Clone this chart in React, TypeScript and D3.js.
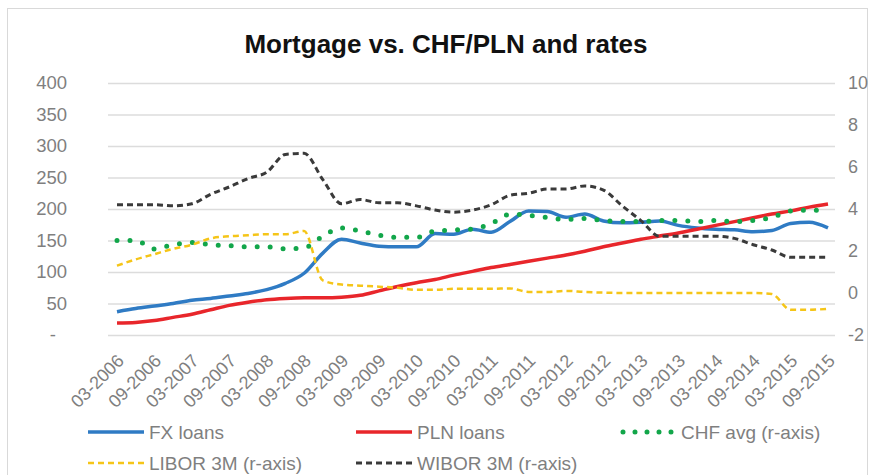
import React, { useEffect, useRef } from "react";
import * as d3 from "d3";

// quarterly categories, labels shown for 03 and 09
const quarters = [
  "03-2006", "06-2006", "09-2006", "12-2006",
  "03-2007", "06-2007", "09-2007", "12-2007",
  "03-2008", "06-2008", "09-2008", "12-2008",
  "03-2009", "06-2009", "09-2009", "12-2009",
  "03-2010", "06-2010", "09-2010", "12-2010",
  "03-2011", "06-2011", "09-2011", "12-2011",
  "03-2012", "06-2012", "09-2012", "12-2012",
  "03-2013", "06-2013", "09-2013", "12-2013",
  "03-2014", "06-2014", "09-2014", "12-2014",
  "03-2015", "06-2015", "09-2015",
];

// left axis
const fxLoans = [
  37, 42, 46, 50, 55, 58, 62, 66, 72, 82, 98, 130, 152, 146, 141, 140, 140, 161, 160, 168,
  163, 180, 197, 196, 187, 192, 181, 178, 179, 181, 174, 170, 168, 167, 164, 166, 177, 179, 170,
];
const plnLoans = [
  19, 20, 23, 28, 33, 40, 47, 52, 56, 58, 59, 59, 60, 63, 70, 77, 83, 88, 95, 101,
  107, 112, 117, 122, 127, 133, 140, 146, 152, 157, 162, 168, 174, 180, 186, 192, 197, 203, 208,
];

// right axis
const chfAvg = [
  2.5, 2.5, 2.1, 2.3, 2.4, 2.3, 2.25, 2.2, 2.2, 2.1, 2.15, 2.7, 3.1, 2.95, 2.75, 2.65, 2.65, 2.95, 3.0, 3.05,
  3.3, 3.75, 3.7, 3.6, 3.5, 3.55, 3.45, 3.4, 3.4, 3.45, 3.45, 3.4, 3.45, 3.4, 3.45, 3.6, 3.9, 3.95, 3.9,
];
const libor3m = [
  1.3, 1.6, 1.85, 2.1, 2.3, 2.6, 2.7, 2.75, 2.8, 2.8, 2.95, 0.6, 0.4, 0.35, 0.3, 0.25, 0.15, 0.15, 0.2, 0.2,
  0.2, 0.22, 0.05, 0.05, 0.1, 0.05, 0.02, 0, 0, 0, 0, 0, 0, 0, 0, -0.05, -0.8, -0.8, -0.75,
];
const wibor3m = [
  4.2, 4.2, 4.2, 4.15, 4.25, 4.7, 5.05, 5.45, 5.75, 6.6, 6.65, 5.4, 4.25, 4.45, 4.3, 4.3, 4.15, 3.95, 3.85, 3.95,
  4.2, 4.65, 4.75, 4.95, 4.95, 5.1, 4.9, 4.15, 3.45, 2.7, 2.7, 2.7, 2.7, 2.6, 2.3, 2.05, 1.7, 1.7, 1.7,
];

const leftTicks = [0, 50, 100, 150, 200, 250, 300, 350, 400];
const rightTicks = [-2, 0, 2, 4, 6, 8, 10];

const FONT = "'Liberation Sans', Arial, sans-serif";
const GREY = "#7f7f7f";

export default function App() {
  const ref = useRef<SVGSVGElement>(null);

  useEffect(() => {
    const svg = d3.select(ref.current);
    svg.selectAll("*").remove();

    const plot = { left: 108, right: 835, top: 83, bottom: 335 };

    // chart frame
    svg
      .append("rect")
      .attr("x", 7.5)
      .attr("y", 8.5)
      .attr("width", 860)
      .attr("height", 470)
      .attr("fill", "#fff")
      .attr("stroke", "#d9d9d9");

    const x = d3.scalePoint<string>().domain(quarters).range([117, 828]);
    const yL = d3.scaleLinear().domain([0, 400]).range([plot.bottom, plot.top]);
    const yR = d3.scaleLinear().domain([-2, 10]).range([plot.bottom, plot.top]);

    // title
    svg
      .append("text")
      .attr("x", 446)
      .attr("y", 53)
      .attr("text-anchor", "middle")
      .style("font", `bold 26px ${FONT}`)
      .attr("fill", "#111")
      .text("Mortgage vs. CHF/PLN and rates");

    // gridlines
    svg
      .append("g")
      .selectAll("line")
      .data(leftTicks)
      .enter()
      .append("line")
      .attr("x1", plot.left)
      .attr("x2", plot.right)
      .attr("y1", (d) => yL(d) + 0.5)
      .attr("y2", (d) => yL(d) + 0.5)
      .attr("stroke", "#dcdcdc")
      .attr("stroke-width", 1.4);

    // left axis labels
    svg
      .append("g")
      .selectAll("text")
      .data(leftTicks)
      .enter()
      .append("text")
      .attr("x", (d) => (d === 0 ? 56 : 67))
      .attr("y", (d) => yL(d))
      .attr("dy", "0.35em")
      .attr("text-anchor", "end")
      .style("font", `18.5px ${FONT}`)
      .attr("fill", GREY)
      .text((d) => (d === 0 ? "-" : String(d)));

    // right axis labels
    svg
      .append("g")
      .selectAll("text")
      .data(rightTicks)
      .enter()
      .append("text")
      .attr("x", 848)
      .attr("y", (d) => yR(d))
      .attr("dy", "0.35em")
      .style("font", `18px ${FONT}`)
      .attr("fill", GREY)
      .text((d) => String(d));

    // x labels, rotated
    svg
      .append("g")
      .selectAll("text")
      .data(quarters.filter((q) => q.startsWith("03") || q.startsWith("09")))
      .enter()
      .append("text")
      .attr("transform", (d) => `translate(${(x(d) as number) + 8},362) rotate(-45)`)
      .attr("text-anchor", "end")
      .style("font", `18px ${FONT}`)
      .attr("fill", GREY)
      .text((d) => d);

    const series = [
      { name: "FX loans", values: fxLoans, y: yL, color: "#2f7bc4", width: 3.5, dash: null, cap: "butt" },
      { name: "PLN loans", values: plnLoans, y: yL, color: "#e8262b", width: 3.5, dash: null, cap: "butt" },
      { name: "CHF avg (r-axis)", values: chfAvg, y: yR, color: "#12a64a", width: 5, dash: "0 13", cap: "round" },
      { name: "LIBOR 3M (r-axis)", values: libor3m, y: yR, color: "#f5c518", width: 2.5, dash: "6 4", cap: "butt" },
      { name: "WIBOR 3M (r-axis)", values: wibor3m, y: yR, color: "#3a3a3a", width: 3, dash: "6 4", cap: "butt" },
    ];

    series.forEach((s) => {
      const line = d3
        .line<number>()
        .x((_, i) => x(quarters[i]) as number)
        .y((d) => s.y(d))
        .curve(d3.curveMonotoneX);
      svg
        .append("path")
        .datum(s.values)
        .attr("d", line)
        .attr("fill", "none")
        .attr("stroke", s.color)
        .attr("stroke-width", s.width)
        .attr("stroke-linecap", s.cap)
        .attr("stroke-linejoin", "round")
        .attr("stroke-dasharray", s.dash);
    });

    // legend
    const legendPos = [
      [88, 432],
      [356, 432],
      [620, 432],
      [88, 463],
      [356, 463],
    ];
    const legend = svg
      .append("g")
      .selectAll("g")
      .data(series)
      .enter()
      .append("g")
      .attr("transform", (_, i) => `translate(${legendPos[i][0]},${legendPos[i][1]})`);
    legend
      .append("line")
      .attr("x1", (d) => (d.cap === "round" ? 3 : 0))
      .attr("x2", 56)
      .attr("stroke", (d) => d.color)
      .attr("stroke-width", (d) => d.width)
      .attr("stroke-linecap", (d) => d.cap)
      .attr("stroke-dasharray", (d) => (d.cap === "round" ? "0 12" : d.dash));
    legend
      .append("text")
      .attr("x", 61)
      .attr("dy", "0.35em")
      .style("font", `19px ${FONT}`)
      .attr("fill", GREY)
      .text((d) => d.name);
  }, []);

  return (
    <svg
      ref={ref}
      width={870}
      height={475}
      style={{ position: "absolute", left: 0, top: 0, background: "#fff" }}
    />
  );
}
